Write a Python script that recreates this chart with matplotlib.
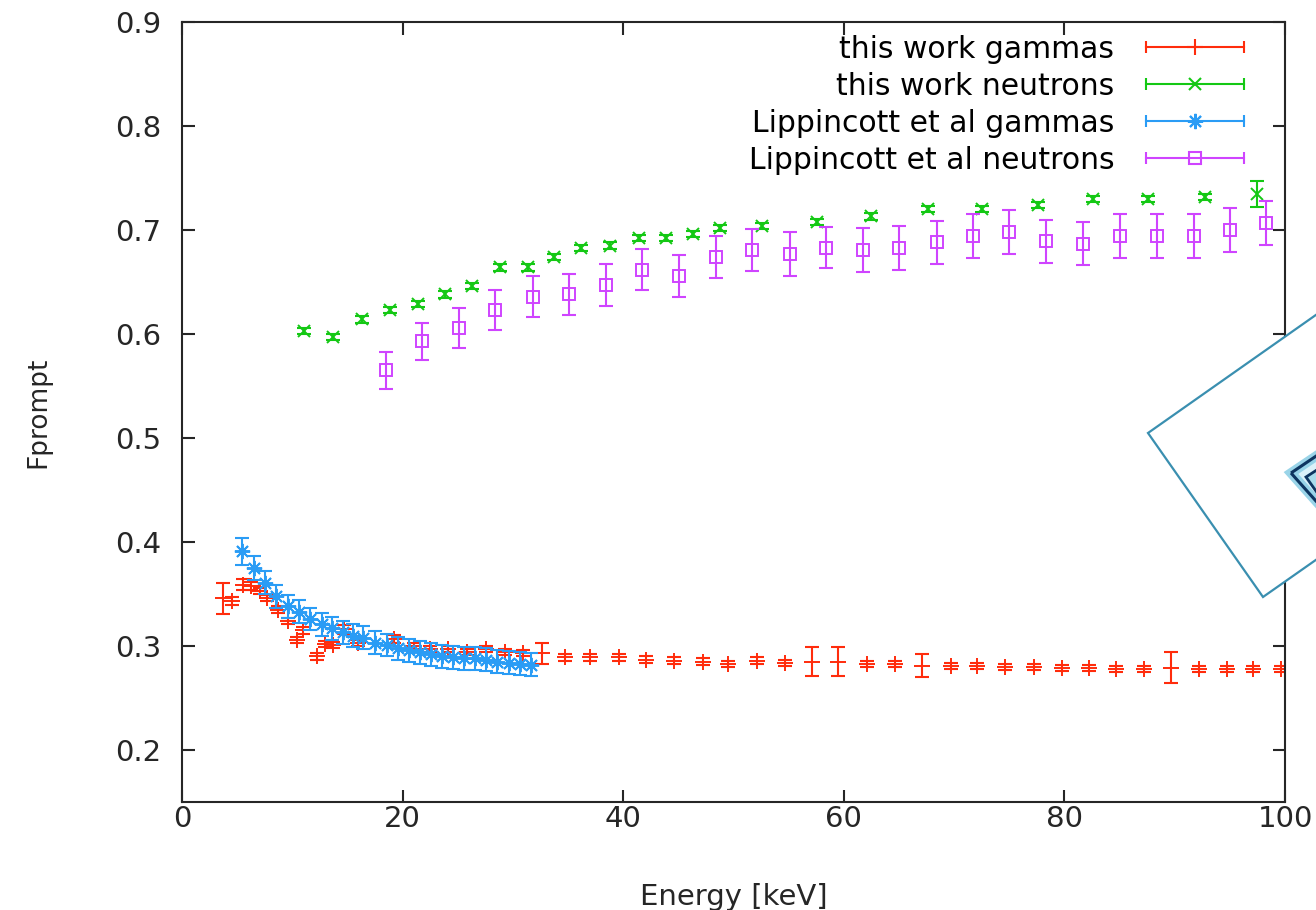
import matplotlib
matplotlib.use("Agg")
import matplotlib.pyplot as plt
from matplotlib.lines import Line2D
from matplotlib.legend_handler import HandlerBase
from matplotlib.patches import Polygon

# ## Data

# this work, gammas
gam_e = [3.75, 4.5, 5.55, 6.3, 7.1, 7.7, 8.7, 9.6, 10.4, 11.0, 12.2, 13.0, 13.7,
         14.7, 16.0, 19.2, 21.0, 22.5, 24.1, 25.8, 27.6, 29.3, 30.9, 32.6, 34.7,
         37.0, 39.6, 42.1, 44.6, 47.2, 49.5, 52.1, 54.7, 57.1, 59.5, 62.1, 64.6,
         67.1, 69.7, 72.1, 74.6, 77.2, 79.8, 82.2, 84.7, 87.2, 89.7, 92.2, 94.7,
         97.1, 99.6]
gam_f = [0.346, 0.343, 0.359, 0.358, 0.353, 0.346, 0.335, 0.324, 0.306, 0.315,
         0.290, 0.302, 0.301, 0.316, 0.303, 0.307, 0.300, 0.297, 0.297, 0.294,
         0.297, 0.294, 0.293, 0.293, 0.289, 0.289, 0.289, 0.287, 0.286, 0.285,
         0.283, 0.286, 0.284, 0.285, 0.285, 0.283, 0.283, 0.281, 0.281, 0.281,
         0.280, 0.280, 0.279, 0.279, 0.278, 0.278, 0.279, 0.278, 0.278, 0.278,
         0.278]
gam_err = [0.015, 0.004, 0.005, 0.004, 0.003, 0.003, 0.003, 0.003, 0.003, 0.003,
           0.003, 0.003, 0.003, 0.004, 0.003, 0.004, 0.003, 0.003, 0.003, 0.003,
           0.003, 0.003, 0.003, 0.010, 0.003, 0.003, 0.003, 0.003, 0.003, 0.003,
           0.003, 0.003, 0.003, 0.014, 0.014, 0.003, 0.003, 0.011, 0.003, 0.003,
           0.003, 0.003, 0.003, 0.003, 0.003, 0.003, 0.015, 0.003, 0.003, 0.003,
           0.003]

# this work, neutrons
neu_e = [11.1, 13.7, 16.3, 18.9, 21.4, 23.8, 26.3, 28.8, 31.4, 33.7, 36.2, 38.8,
         41.4, 43.9, 46.3, 48.8, 52.6, 57.6, 62.5, 67.6, 72.5, 77.6, 82.6, 87.6,
         92.7, 97.5]
neu_f = [0.603, 0.597, 0.614, 0.623, 0.629, 0.638, 0.646, 0.664, 0.664, 0.674,
         0.683, 0.685, 0.692, 0.692, 0.696, 0.702, 0.704, 0.708, 0.713, 0.720,
         0.720, 0.724, 0.730, 0.730, 0.732, 0.735]
neu_err = [0.003] * 25 + [0.0125]

# Lippincott et al, gammas
lg_e = [5.4, 6.5, 7.5, 8.5, 9.6, 10.6, 11.6, 12.7, 13.6, 14.6, 15.5, 16.4, 17.5,
        18.6, 19.6, 20.6, 21.6, 22.6, 23.6, 24.6, 25.6, 26.6, 27.6, 28.6, 29.6,
        30.6, 31.6]
lg_f = [0.391, 0.375, 0.361, 0.348, 0.338, 0.333, 0.326, 0.321, 0.317, 0.313,
        0.310, 0.308, 0.303, 0.301, 0.298, 0.296, 0.294, 0.292, 0.290, 0.289,
        0.288, 0.288, 0.287, 0.285, 0.284, 0.283, 0.282]
lg_err = [0.013, 0.012, 0.011, 0.011, 0.011, 0.011, 0.011, 0.011, 0.011, 0.011,
          0.011, 0.011, 0.011, 0.011, 0.011, 0.011, 0.011, 0.011, 0.011, 0.011,
          0.011, 0.011, 0.011, 0.011, 0.011, 0.011, 0.011]

# Lippincott et al, neutrons
ln_e = [18.5, 21.8, 25.1, 28.4, 31.8, 35.1, 38.4, 41.7, 45.1, 48.4, 51.7, 55.1,
        58.4, 61.7, 65.0, 68.4, 71.7, 75.0, 78.3, 81.7, 85.0, 88.4, 91.7, 95.0,
        98.3]
ln_f = [0.565, 0.593, 0.606, 0.623, 0.636, 0.638, 0.647, 0.662, 0.656, 0.674,
        0.681, 0.677, 0.683, 0.681, 0.683, 0.688, 0.694, 0.698, 0.689, 0.687,
        0.694, 0.694, 0.694, 0.700, 0.707]
ln_err = [0.018, 0.018, 0.019, 0.019, 0.020, 0.020, 0.020, 0.020, 0.020, 0.020,
          0.020, 0.021, 0.020, 0.021, 0.021, 0.021, 0.021, 0.021, 0.021, 0.021,
          0.021, 0.021, 0.021, 0.021, 0.021]

labels = ["this work gammas", "this work neutrons",
          "Lippincott et al gammas", "Lippincott et al neutrons"]
colors = ["#ff2c0c", "#14c814", "#2a9cf5", "#cf44ff"]
markers = ["+", "x", (8, 2, 0), "s"]
sizes = [12, 9, 11, 9]


# ## Legend handler in gnuplot style (line with caps, marker in middle)

class GnuplotHandler(HandlerBase):
    def create_artists(self, legend, orig, xd, yd, w, h, fontsize, trans):
        y = h / 2 - yd
        c = orig.get_color()
        line = Line2D([-xd, -xd + w], [y, y], color=c, lw=1.5)
        caps = Line2D([-xd, -xd + w], [y, y], ls="none", marker="|",
                      ms=9, mew=1.5, color=c)
        mk = Line2D([-xd + w / 2], [y], ls="none", marker=orig.get_marker(),
                    ms=orig.get_markersize(), mew=1.5, color=c,
                    mfc=orig.get_markerfacecolor())
        arts = [line, caps, mk]
        for a in arts:
            a.set_transform(trans)
        return arts


# ## Plot

plt.rcParams["font.family"] = "DejaVu Sans"
fig = plt.figure(figsize=(13.16, 9.10), dpi=100)
ax = fig.add_axes([0.1383, 0.1187, 0.8382, 0.8571])

series = [(gam_e, gam_f, gam_err), (neu_e, neu_f, neu_err),
          (lg_e, lg_f, lg_err), (ln_e, ln_f, ln_err)]
handles = []
for (e, f, err), lab, c, m, s in zip(series, labels, colors, markers, sizes):
    mfc = "none" if m == "s" else c
    ax.errorbar(e, f, yerr=err, fmt="none", ecolor=c, elinewidth=1.5,
                capsize=5, capthick=1.5)
    ax.plot(e, f, ls="none", marker=m, ms=s, mew=1.4, color=c, mfc=mfc)
    handles.append(Line2D([], [], color=c, marker=m, ms=s, mfc=mfc, label=lab))

ax.set_xlim(0, 100)
ax.set_ylim(0.15, 0.9)
ax.set_xticks([0, 20, 40, 60, 80, 100])
ax.set_yticks([0.2, 0.3, 0.4, 0.5, 0.6, 0.7, 0.8, 0.9])
ax.tick_params(direction="in", length=9, width=1.5, top=True, right=True,
               labelsize=21, colors="#262626")
ax.tick_params(axis="x", pad=2)
ax.tick_params(axis="y", pad=15)
for sp in ax.spines.values():
    sp.set_linewidth(1.5)
    sp.set_color("#262626")

ax.set_xlabel("Energy [keV]", fontsize=21, color="#262626", labelpad=36)
ax.set_ylabel("Fprompt", fontsize=19, color="#262626", labelpad=46)

ax.legend(handles=handles, loc="upper right", bbox_to_anchor=(0.963, 0.984),
          frameon=False, markerfirst=False, fontsize=21.5, handlelength=3.3,
          handletextpad=1.05, labelspacing=0.27, borderpad=0, borderaxespad=0,
          handler_map={Line2D: GnuplotHandler()})

# rotated overlay box that sits over the right edge of the picture
W, H = 1316.0, 910.0


def px(pts):
    return [(x / W, 1 - y / H) for x, y in pts]


box = Polygon(px([(1148, 433), (1263, 597), (1340, 543), (1340, 298)]),
              closed=True, transform=fig.transFigure, fc="white",
              ec="#3a8fb0", lw=1.6, zorder=10)
fig.patches.append(box)
glow = Polygon(px([(1291, 473), (1340, 440), (1340, 528)]), closed=True,
               transform=fig.transFigure, fc="#d6f1fa", ec="#8fd0e6", lw=7,
               alpha=0.9, zorder=11)
fig.patches.append(glow)
icon = Polygon(px([(1291, 473), (1340, 440), (1340, 528)]), closed=True,
               transform=fig.transFigure, fc="none", ec="#0d3560", lw=2.2,
               zorder=12)
fig.patches.append(icon)
inner = Polygon(px([(1306, 477), (1340, 455), (1340, 525)]), closed=True,
                transform=fig.transFigure, fc="#a8dcec", ec="#0d3560", lw=2.0,
                zorder=12)
fig.patches.append(inner)

fig.savefig("out.png", dpi=100)
